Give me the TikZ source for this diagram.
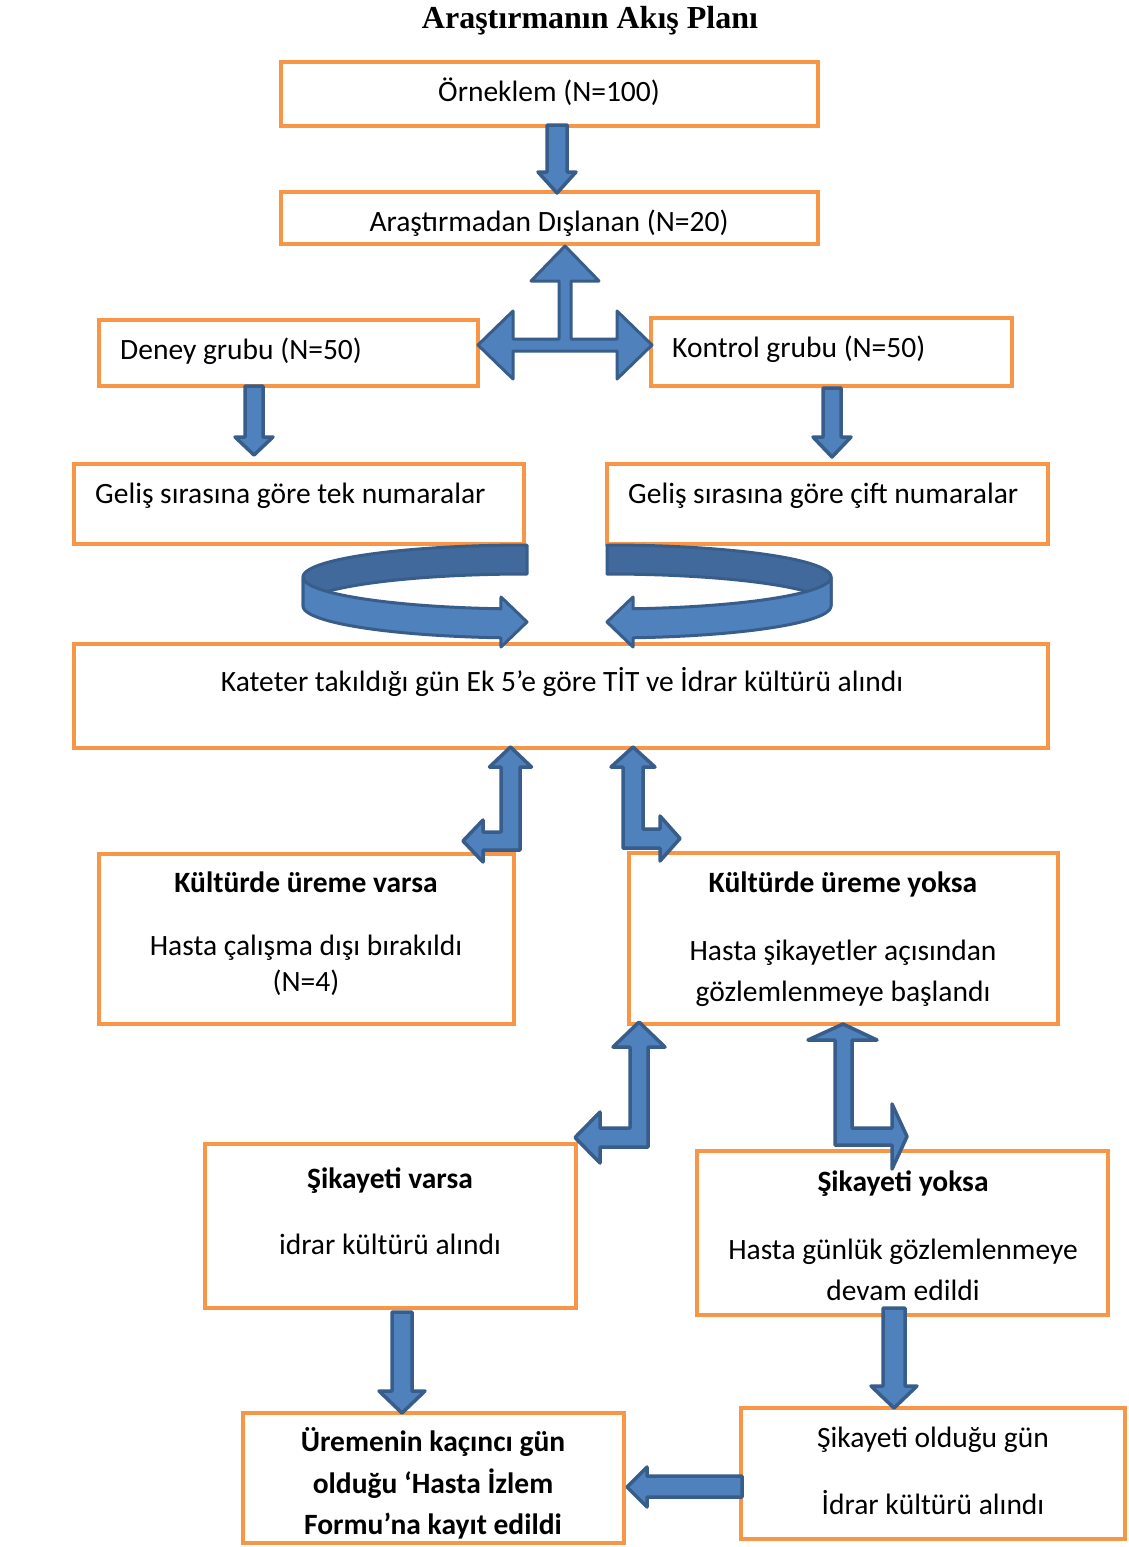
\documentclass[tikz,border=0pt]{standalone}
\usepackage{fontspec}
\setmainfont{Carlito}
\newfontfamily\titlefont{Liberation Serif}
\definecolor{boxorange}{HTML}{F79646}
\definecolor{arrfill}{HTML}{4F81BD}
\definecolor{arrback}{HTML}{41699C}
\definecolor{arrline}{HTML}{385D8A}
\tikzset{
  flowbox/.style={draw=boxorange, line width=4.5pt, fill=white, inner sep=0pt},
  txt/.style={font=\fontsize{29.5}{35}\selectfont, inner sep=0pt, anchor=base},
  txtl/.style={txt, anchor=base west},
  btxt/.style={txt, font=\fontsize{29.5}{35}\selectfont\bfseries},
  blockarrow/.style={fill=arrfill, draw=arrline, line width=3.5pt, line join=round},
  backband/.style={fill=arrback, draw=arrline, line width=3pt, line join=round},
}
\newcommand{\dnarr}[6]{% cx, ytop, ybase, ytip, shaft half, head half
  \draw[blockarrow] ({#1-#5},#2) -- ({#1+#5},#2) -- ({#1+#5},#3) -- ({#1+#6},#3) -- (#1,#4) -- ({#1-#6},#3) -- ({#1-#5},#3) -- cycle;}
\begin{document}
\begin{tikzpicture}[x=1pt,y=-1pt]
\useasboundingbox (0,0) rectangle (1129,1547);
\fill[white] (0,0) rectangle (1129,1547);

% title
\node[anchor=base, inner sep=0pt, font=\titlefont\fontsize{32}{38}\selectfont\bfseries] (title) at (590,28) {Araştırmanın Akış Planı};

% boxes
\node[flowbox, minimum width=537pt, minimum height=64pt] (b1) at (549.5,94) {};
\node[flowbox, minimum width=537pt, minimum height=52pt] (b2) at (549.5,218) {};
\node[flowbox, minimum width=379pt, minimum height=66pt] (b3) at (288.5,353) {};
\node[flowbox, minimum width=361pt, minimum height=68pt] (b4) at (831.5,352) {};
\node[flowbox, minimum width=450pt, minimum height=80pt] (b5) at (299,504) {};
\node[flowbox, minimum width=441pt, minimum height=80pt] (b6) at (827.5,504) {};
\node[flowbox, minimum width=974pt, minimum height=104pt] (b7) at (561,696) {};
\node[flowbox, minimum width=415pt, minimum height=170pt] (b8) at (306.5,939) {};
\node[flowbox, minimum width=429pt, minimum height=171pt] (b9) at (843.5,938.5) {};
\node[flowbox, minimum width=371pt, minimum height=164pt] (b10) at (390.5,1226) {};
\node[flowbox, minimum width=411pt, minimum height=164pt] (b11) at (902.5,1233) {};
\node[flowbox, minimum width=381pt, minimum height=130pt] (b12) at (433.5,1478) {};
\node[flowbox, minimum width=384pt, minimum height=131pt] (b13) at (933,1473.5) {};

% texts
\node[txt] (t1) at (549,101) {Örneklem (N=100)};
\node[txt] (t2) at (549,231) {Araştırmadan Dışlanan (N=20)};
\node[txtl] (t3) at (120,359) {Deney grubu (N=50)};
\node[txtl] (t4) at (672,357) {Kontrol grubu (N=50)};
\node[txtl] (t5) at (95,503) {Geliş sırasına göre tek numaralar};
\node[txtl] (t6) at (628,503) {Geliş sırasına göre çift numaralar};
\node[txt] (t7) at (562,691) {Kateter takıldığı gün Ek 5’e göre TİT ve İdrar kültürü alındı};
\node[btxt] (t8a) at (306,892) {Kültürde üreme varsa};
\node[txt] (t8b) at (306,955) {Hasta çalışma dışı bırakıldı};
\node[txt] (t8c) at (306,991) {(N=4)};
\node[btxt] (t9a) at (843,892) {Kültürde üreme yoksa};
\node[txt] (t9b) at (843,960) {Hasta şikayetler açısından};
\node[txt] (t9c) at (843,1001) {gözlemlenmeye başlandı};
\node[btxt] (t10a) at (390,1188) {Şikayeti varsa};
\node[txt] (t10b) at (390,1254) {idrar kültürü alındı};
\node[btxt] (t11a) at (903,1191) {Şikayeti yoksa};
\node[txt] (t11b) at (903,1259) {Hasta günlük gözlemlenmeye};
\node[txt] (t11c) at (903,1300) {devam edildi};
\node[btxt] (t12a) at (433,1451) {Üremenin kaçıncı gün};
\node[btxt] (t12b) at (433,1493) {olduğu ‘Hasta İzlem};
\node[btxt] (t12c) at (433,1534) {Formu’na kayıt edildi};
\node[txt] (t13a) at (933,1447) {Şikayeti olduğu gün};
\node[txt] (t13b) at (933,1514) {İdrar kültürü alındı};

% straight down arrows
\dnarr{557}{125}{172}{193}{10}{19}
\dnarr{254}{386}{437}{455}{9}{19}
\dnarr{832}{388}{437}{457}{9}{19}
\dnarr{402}{1312}{1391}{1413}{10}{23}
\dnarr{894}{1308}{1386}{1408}{11}{23}

% left arrow bottom
\draw[blockarrow] (742,1476) -- (647,1476) -- (647,1467) -- (627,1487) -- (647,1507) -- (647,1497) -- (742,1497) -- cycle;

% three-way arrow
\draw[blockarrow, line width=3pt] (565,246) -- (599,281) -- (571,281) -- (571,339) -- (617,339) -- (617,311) -- (652,345) -- (617,379) -- (617,351) -- (513,351) -- (513,379) -- (478,345) -- (513,311) -- (513,339) -- (559,339) -- (559,281) -- (531,281) -- cycle;

% L-shaped arrows
\draw[blockarrow] (510.5,747) -- (531.5,767) -- (520,767) -- (520,850) -- (483,850) -- (483,862) -- (463,841) -- (483,820) -- (483,832) -- (501,832) -- (501,767) -- (489.5,767) -- cycle;
\draw[blockarrow] (633,747) -- (655,767) -- (643,767) -- (643,829) -- (660,829) -- (660,816) -- (680,838.5) -- (660,861) -- (660,848) -- (623,848) -- (623,767) -- (611,767) -- cycle;
\draw[blockarrow] (639,1022) -- (665,1047) -- (648,1047) -- (648,1147) -- (600,1147) -- (600,1163) -- (575,1137.5) -- (600,1112) -- (600,1128) -- (630,1128) -- (630,1047) -- (613,1047) -- cycle;
\draw[blockarrow] (843,1024) -- (877,1040) -- (852,1040) -- (852,1128) -- (892,1128) -- (892,1104) -- (907,1136.5) -- (892,1169) -- (892,1145) -- (835,1145) -- (835,1040) -- (808,1040) -- cycle;

% curved arrows (left)
\draw[backband] plot[domain=270:180, samples=40] ({527+224*cos(\x)},{577+32*sin(\x)})
  -- plot[domain=180:270, samples=40] ({527+224*cos(\x)},{606+32*sin(\x)}) -- cycle;
\draw[blockarrow, line width=3pt] plot[domain=180:96.7, samples=40] ({527+224*cos(\x)},{577+32*sin(\x)})
  -- (501,597) -- (527,622) -- (501,647)
  -- plot[domain=96.7:180, samples=40] ({527+224*cos(\x)},{606+32*sin(\x)}) -- cycle;
% curved arrows (right)
\draw[backband] plot[domain=270:360, samples=40] ({607+224*cos(\x)},{577+32*sin(\x)})
  -- plot[domain=360:270, samples=40] ({607+224*cos(\x)},{606+32*sin(\x)}) -- cycle;
\draw[blockarrow, line width=3pt] plot[domain=0:83.3, samples=40] ({607+224*cos(\x)},{577+32*sin(\x)})
  -- (633,597) -- (607,622) -- (633,647)
  -- plot[domain=83.3:0, samples=40] ({607+224*cos(\x)},{606+32*sin(\x)}) -- cycle;
\end{tikzpicture}
\end{document}
